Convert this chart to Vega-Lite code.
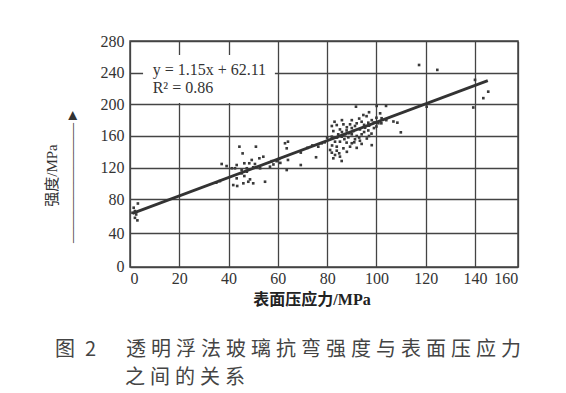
{
  "$schema": "https://vega.github.io/schema/vega-lite/v6.json",
  "width": 388,
  "height": 226,
  "autosize": {"type": "none"},
  "padding": {"left": 130, "top": 41, "right": 48, "bottom": 126},
  "background": "white",
  "config": {
    "view": {"stroke": "#444", "strokeWidth": 1.5},
    "axis": {
      "grid": true, "gridColor": "#444", "gridWidth": 1.3, "gridOpacity": 1,
      "domain": false, "ticks": false,
      "labelFont": "Liberation Serif", "labelFontSize": 16, "labelColor": "#333"
    }
  },
  "title": {
    "text": [
      "图\u2005\u20052\u3000\u2005\u2005透\u2005明\u2005浮\u2005法\u2005玻\u2005璃\u2005抗\u2005弯\u2005强\u2005度\u2005与\u2005表\u2005面\u2005压\u2005应\u2005力",
      "\u2060\u3000\u3000\u3000\u2005\u2005之\u2005间\u2005的\u2005关\u2005系"
    ],
    "orient": "bottom", "anchor": "start", "frame": "group",
    "dx": -75, "offset": 33,
    "font": "Noto Sans CJK SC", "fontSize": 20, "fontWeight": "normal",
    "color": "#444", "lineHeight": 28, "baseline": "top"
  },
  "datasets": {
    "pts": [
      {"stress": 1.5, "strength": 70}, {"stress": 2, "strength": 66}, {"stress": 2.5, "strength": 62}, {"stress": 2, "strength": 58}, {"stress": 3, "strength": 55}, {"stress": 3.2, "strength": 75}, {"stress": 1, "strength": 64},
      {"stress": 35, "strength": 101}, {"stress": 36.5, "strength": 103},
      {"stress": 44.4, "strength": 146.5}, {"stress": 51.1, "strength": 146.5}, {"stress": 45.7, "strength": 138}, {"stress": 54.1, "strength": 133.8}, {"stress": 52.5, "strength": 131.8}, {"stress": 49.4, "strength": 129.7}, {"stress": 37.2, "strength": 124.6}, {"stress": 39.2, "strength": 122}, {"stress": 43.3, "strength": 123.3}, {"stress": 46.4, "strength": 125.5}, {"stress": 48.4, "strength": 125.5}, {"stress": 50.7, "strength": 124.6}, {"stress": 41.3, "strength": 119.2}, {"stress": 42.6, "strength": 119.2}, {"stress": 45.3, "strength": 117}, {"stress": 47.4, "strength": 119.2}, {"stress": 50, "strength": 120.4}, {"stress": 52.8, "strength": 119.2}, {"stress": 45.3, "strength": 112.8}, {"stress": 47.4, "strength": 114.9}, {"stress": 43.3, "strength": 106.5}, {"stress": 46.4, "strength": 109.4}, {"stress": 48.7, "strength": 105.2}, {"stress": 48, "strength": 102.2}, {"stress": 46, "strength": 100.2}, {"stress": 50, "strength": 100.2}, {"stress": 41.9, "strength": 98}, {"stress": 43.5, "strength": 96.8}, {"stress": 54.8, "strength": 102.2}, {"stress": 57.5, "strength": 128.2}, {"stress": 58.2, "strength": 124}, {"stress": 59.5, "strength": 128.2}, {"stress": 56.8, "strength": 121.2}, {"stress": 62.9, "strength": 150.8}, {"stress": 63.6, "strength": 144.4}, {"stress": 64.1, "strength": 152.8}, {"stress": 63.6, "strength": 117}, {"stress": 64.1, "strength": 129.7}, {"stress": 60.5, "strength": 131}, {"stress": 61, "strength": 126},
      {"stress": 69.3, "strength": 139}, {"stress": 69.3, "strength": 123.3}, {"stress": 72, "strength": 145}, {"stress": 74, "strength": 148}, {"stress": 75.5, "strength": 133.1}, {"stress": 76.4, "strength": 146.5}, {"stress": 77.8, "strength": 150.8},
      {"stress": 91.7, "strength": 197}, {"stress": 100.1, "strength": 198}, {"stress": 103.9, "strength": 198}, {"stress": 94.7, "strength": 186.5}, {"stress": 101.5, "strength": 188.6}, {"stress": 98.1, "strength": 180}, {"stress": 96.7, "strength": 176.8}, {"stress": 102.1, "strength": 182.4}, {"stress": 100.8, "strength": 176.1}, {"stress": 106.9, "strength": 178.3}, {"stress": 108.5, "strength": 176.8}, {"stress": 109.9, "strength": 164.6},
      {"stress": 81.9, "strength": 172.6}, {"stress": 83.9, "strength": 173.8}, {"stress": 86.6, "strength": 174.7}, {"stress": 89.3, "strength": 174.7}, {"stress": 91.3, "strength": 172.6}, {"stress": 82.5, "strength": 166.2}, {"stress": 85.2, "strength": 168.3}, {"stress": 87.9, "strength": 167}, {"stress": 90.6, "strength": 166.2}, {"stress": 93.3, "strength": 168.3}, {"stress": 95.4, "strength": 170.4}, {"stress": 96.7, "strength": 167}, {"stress": 84.5, "strength": 162.1}, {"stress": 87.3, "strength": 162.1}, {"stress": 90, "strength": 162.1}, {"stress": 92, "strength": 160}, {"stress": 94, "strength": 162.1}, {"stress": 81.9, "strength": 159.1}, {"stress": 85.9, "strength": 159.1}, {"stress": 88.6, "strength": 158.3}, {"stress": 91.3, "strength": 155.8}, {"stress": 85.2, "strength": 152.8}, {"stress": 87.9, "strength": 151.6}, {"stress": 90, "strength": 150.8}, {"stress": 83.2, "strength": 152.8}, {"stress": 93.3, "strength": 154}, {"stress": 96.1, "strength": 156.8}, {"stress": 98.1, "strength": 148.4}, {"stress": 83.9, "strength": 146.5}, {"stress": 86.6, "strength": 144.4}, {"stress": 81.2, "strength": 142.3}, {"stress": 81.9, "strength": 138.9}, {"stress": 83.9, "strength": 141.4}, {"stress": 84.9, "strength": 138.1}, {"stress": 83.2, "strength": 136}, {"stress": 85.2, "strength": 133.9}, {"stress": 82.5, "strength": 131.8}, {"stress": 85.9, "strength": 128.4}, {"stress": 89.3, "strength": 146.5},
      {"stress": 88, "strength": 171}, {"stress": 92, "strength": 176}, {"stress": 94, "strength": 178}, {"stress": 97, "strength": 173}, {"stress": 99, "strength": 170}, {"stress": 86, "strength": 165}, {"stress": 89, "strength": 163.5}, {"stress": 95, "strength": 165}, {"stress": 98, "strength": 163}, {"stress": 93, "strength": 158}, {"stress": 97, "strength": 160}, {"stress": 99, "strength": 177}, {"stress": 100, "strength": 183}, {"stress": 96, "strength": 185}, {"stress": 90, "strength": 170}, {"stress": 84, "strength": 158}, {"stress": 87, "strength": 156}, {"stress": 91, "strength": 152}, {"stress": 94, "strength": 150}, {"stress": 82, "strength": 148}, {"stress": 88, "strength": 140}, {"stress": 92, "strength": 145}, {"stress": 79, "strength": 152}, {"stress": 80, "strength": 158}, {"stress": 83, "strength": 178}, {"stress": 86, "strength": 180}, {"stress": 90, "strength": 180}, {"stress": 95, "strength": 174}, {"stress": 100, "strength": 172}, {"stress": 102, "strength": 176}, {"stress": 104, "strength": 180}, {"stress": 97, "strength": 190}, {"stress": 93, "strength": 182},
      {"stress": 117.3, "strength": 249.7}, {"stress": 124.7, "strength": 243.5}, {"stress": 140, "strength": 230.9}, {"stress": 146.2, "strength": 216}, {"stress": 143.9, "strength": 207.8}, {"stress": 139.3, "strength": 196}, {"stress": 120.4, "strength": 197}
    ],
    "fit": [
      {"stress": 1, "strength": 63.26},
      {"stress": 146, "strength": 230.01}
    ]
  },
  "layer": [
    {
      "data": {"name": "pts"},
      "mark": {"type": "square", "size": 7, "color": "#3a3a3a", "opacity": 1},
      "encoding": {
        "x": {
          "field": "stress", "type": "quantitative",
          "scale": {"domain": [0, 140, 160], "range": [0, 345, 387.7], "nice": false, "zero": false},
          "axis": {
            "values": [0, 20, 40, 60, 80, 100, 120, 140, 160],
            "tickCount": 12,
            "labelPadding": 3,
            "title": "表面压应力/MPa",
            "titleFont": "Liberation Serif, Noto Sans CJK SC", "titleFontSize": 16, "titleFontWeight": "bold", "titleColor": "#222",
            "titleX": 181.5, "titleY": 24, "titleAlign": "center", "titleBaseline": "top"
          }
        },
        "y": {
          "field": "strength", "type": "quantitative",
          "scale": {"domain": [0, 80, 280], "range": [225.7, 158.3, 0], "nice": false, "zero": false},
          "axis": {
            "values": [0, 40, 80, 120, 160, 200, 240, 280],
            "tickCount": 12,
            "labelOverlap": false,
            "labelPadding": 6,
            "title": ["强度/MPa", "————————►"],
            "titleFont": "Liberation Serif, Noto Sans CJK SC", "titleFontSize": 15, "titleFontWeight": "normal", "titleColor": "#333",
            "titleLineHeight": 20,
            "titleX": -86, "titleY": 134, "titleAlign": "center", "titleBaseline": "top", "titleAngle": -90
          }
        }
      }
    },
    {
      "data": {"name": "fit"},
      "mark": {"type": "line", "color": "#333", "strokeWidth": 2.8},
      "encoding": {
        "x": {"field": "stress", "type": "quantitative"},
        "y": {"field": "strength", "type": "quantitative"}
      }
    },
    {
      "data": {"values": [{}]},
      "mark": {"type": "rect", "color": "white", "opacity": 1},
      "encoding": {
        "x": {"datum": 5.3}, "x2": {"datum": 58.8},
        "y": {"datum": 201.7}, "y2": {"datum": 262.3}
      }
    },
    {
      "data": {"values": [{}]},
      "mark": {
        "type": "text", "text": ["y = 1.15x + 62.11", "R² = 0.86"],
        "align": "left", "baseline": "alphabetic",
        "font": "Liberation Serif", "fontSize": 16, "lineHeight": 18, "color": "#333"
      },
      "encoding": {"x": {"datum": 9.2}, "y": {"datum": 237}}
    }
  ]
}
